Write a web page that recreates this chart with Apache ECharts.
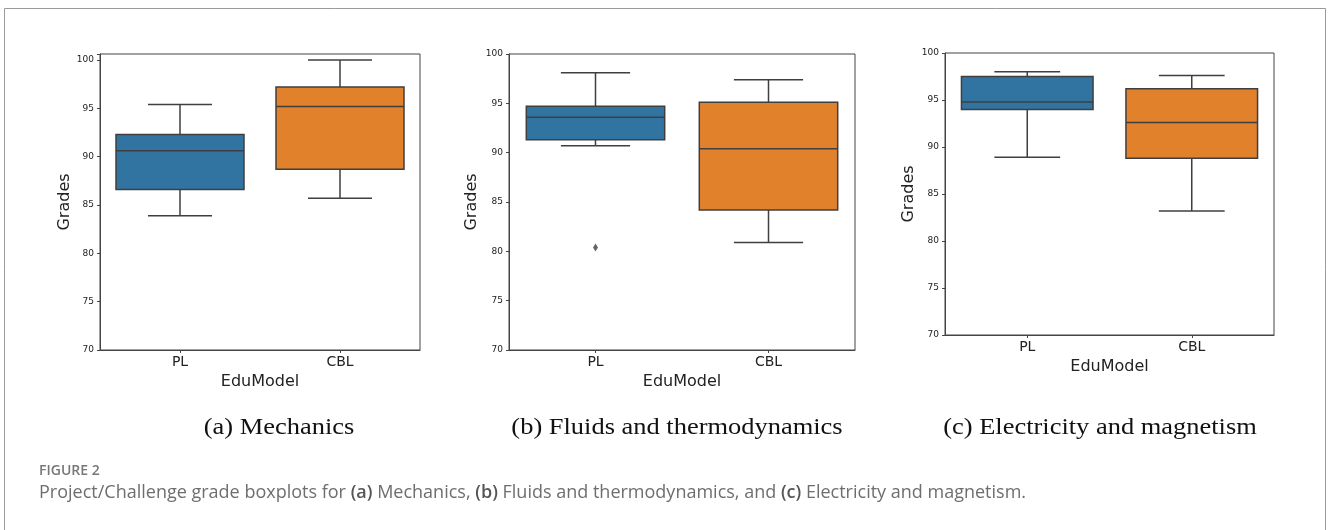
<!DOCTYPE html>
<html>
<head>
<meta charset="utf-8">
<script src="https://cdn.jsdelivr.net/npm/echarts@6/dist/echarts.min.js"></script>
<style>
  html, body { margin: 0; padding: 0; background: #fff; }
  #chart { width: 1328px; height: 530px; }
</style>
</head>
<body>
<div id="chart"></div>
<script>
// ---------- data ----------
const categories = ['PL', 'CBL'];
// [min, Q1, median, Q3, max] per category
const mechanics = [[83.9, 86.6, 90.6, 92.3, 95.4], [85.7, 88.7, 95.2, 97.2, 100.0]];
const fluids = [[90.7, 91.3, 93.6, 94.7, 98.1], [80.9, 84.2, 90.4, 95.1, 97.4]];
const fluidsOutliers = [[0, 80.4]];
const electricity = [[88.9, 94.0, 94.8, 97.5, 98.0], [83.2, 88.8, 92.6, 96.2, 97.6]];
const yMin = 70;
const yStep = 5;
const subtitles = ['(a) Mechanics', '(b) Fluids and thermodynamics', '(c) Electricity and magnetism'];
const figureLabel = 'FIGURE 2';
const xName = 'EduModel';
const yName = 'Grades';

// ---------- styling ----------
const boxColors = ['#3274a1', '#e1812c'];
const edge = '#3f3f3f';
const panels = [
  { left: 100, top: 54, width: 320, height: 296, max: 100.62, data: mechanics, outliers: [], yGap: 27, xGap: 21, sub: 279 },
  { left: 509, top: 54, width: 346, height: 296, max: 100, data: fluids, outliers: fluidsOutliers, yGap: 29, xGap: 22, sub: 677 },
  { left: 945, top: 53, width: 329, height: 282, max: 100, data: electricity, outliers: [], yGap: 28, xGap: 22, sub: 1100 }
];

function renderBox(params, api) {
  const cat = api.value(0);
  const pMin = api.coord([cat, api.value(1)]);
  const pQ1 = api.coord([cat, api.value(2)]);
  const pMed = api.coord([cat, api.value(3)]);
  const pQ3 = api.coord([cat, api.value(4)]);
  const pMax = api.coord([cat, api.value(5)]);
  const band = api.size([1, 0])[0];
  const bw = band * 0.8, cw = band * 0.4;
  const cx = pMed[0];
  const ls = { stroke: edge, lineWidth: 1.5 };
  return {
    type: 'group',
    children: [
      { type: 'line', shape: { x1: cx, y1: pQ3[1], x2: cx, y2: pMax[1] }, style: ls },
      { type: 'line', shape: { x1: cx, y1: pQ1[1], x2: cx, y2: pMin[1] }, style: ls },
      { type: 'line', shape: { x1: cx - cw / 2, y1: pMax[1], x2: cx + cw / 2, y2: pMax[1] }, style: ls },
      { type: 'line', shape: { x1: cx - cw / 2, y1: pMin[1], x2: cx + cw / 2, y2: pMin[1] }, style: ls },
      { type: 'rect', shape: { x: cx - bw / 2, y: pQ3[1], width: bw, height: pQ1[1] - pQ3[1] },
        style: { fill: boxColors[cat], stroke: edge, lineWidth: 1.5 } },
      { type: 'line', shape: { x1: cx - bw / 2, y1: pMed[1], x2: cx + bw / 2, y2: pMed[1] }, style: ls }
    ]
  };
}

const grid = [], xAxis = [], yAxis = [], series = [], graphic = [];
panels.forEach((p, i) => {
  grid.push({ left: p.left, top: p.top, width: p.width, height: p.height, show: true,
    borderColor: '#444', borderWidth: 1, backgroundColor: 'transparent' });
  xAxis.push({
    type: 'category', gridIndex: i, data: categories, boundaryGap: true,
    name: xName, nameLocation: 'middle', nameGap: p.xGap,
    nameTextStyle: { fontFamily: 'DejaVu Sans', fontSize: 16, color: '#222' },
    axisLine: { show: true, lineStyle: { color: '#444', width: 1 } },
    axisTick: { show: true, alignWithLabel: true, length: 3, lineStyle: { color: '#444' } },
    axisLabel: { fontFamily: 'DejaVu Sans', fontSize: 14, color: '#222', margin: 5 },
    splitLine: { show: false }
  });
  yAxis.push({
    type: 'value', gridIndex: i, min: yMin, max: p.max, interval: yStep,
    name: yName, nameLocation: 'middle', nameGap: p.yGap, nameRotate: 90,
    nameTextStyle: { fontFamily: 'DejaVu Sans', fontSize: 16, color: '#222' },
    axisLine: { show: true, lineStyle: { color: '#444', width: 1 } },
    axisTick: { show: true, length: 3, lineStyle: { color: '#444' } },
    axisLabel: { fontFamily: 'DejaVu Sans', fontSize: 9, color: '#222', margin: 6,
      formatter: v => (Math.abs(v % yStep) < 1e-6 ? String(v) : '') },
    splitLine: { show: false }
  });
  series.push({
    type: 'custom', xAxisIndex: i, yAxisIndex: i,
    data: p.data.map((d, c) => [c].concat(d)),
    encode: { x: 0, y: [1, 2, 3, 4, 5] },
    renderItem: renderBox, silent: true
  });
  if (p.outliers.length) {
    series.push({
      type: 'scatter', xAxisIndex: i, yAxisIndex: i, data: p.outliers,
      symbol: 'diamond', symbolSize: [5, 8], itemStyle: { color: edge }, silent: true
    });
  }
  graphic.push({
    type: 'text', x: p.sub, y: 428, scaleX: 1.15,
    style: { text: subtitles[i], font: '23px "Liberation Serif"', fill: '#111',
      textAlign: 'center', textVerticalAlign: 'middle' }
  });
});

graphic.push({
  type: 'rect', shape: { x: 4.5, y: 8.5, width: 1321, height: 540 },
  style: { fill: 'none', stroke: '#9a9a9a', lineWidth: 1 }, silent: true
});
graphic.push({
  type: 'text', x: 39, y: 471,
  style: { text: figureLabel, font: '600 14px "Open Sans"', fill: '#777',
    textVerticalAlign: 'middle' }
});
graphic.push({
  type: 'text', x: 39, y: 493,
  style: {
    text: '{n|Project/Challenge grade boxplots for }{b|(a)}{n| Mechanics, }{b|(b)}{n| Fluids and thermodynamics, and }{b|(c)}{n| Electricity and magnetism.}',
    textVerticalAlign: 'middle',
    rich: {
      n: { font: '18px "Open Sans"', fill: '#6e6e6e' },
      b: { font: '600 18px "Open Sans"', fill: '#555' }
    }
  }
});

const chart = echarts.init(document.getElementById('chart'), null, { renderer: 'canvas' });
chart.setOption({ animation: false, backgroundColor: '#fff', grid, xAxis, yAxis, series, graphic });
</script>
</body>
</html>
